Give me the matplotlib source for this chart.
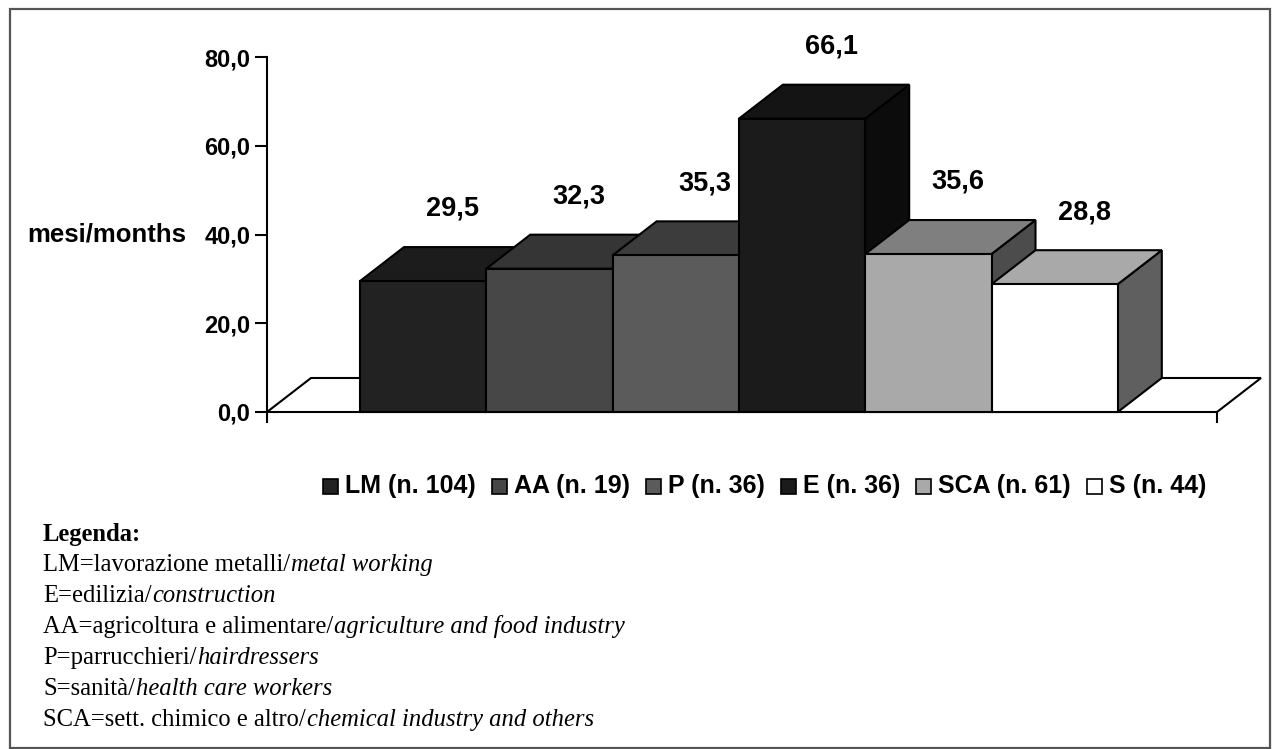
import matplotlib
matplotlib.use('Agg')
import matplotlib.pyplot as plt
from matplotlib.patches import Polygon, Rectangle
from matplotlib.ticker import FuncFormatter

W, H = 1273, 749

# data
categories = ['LM', 'AA', 'P', 'E', 'SCA', 'S']
counts = [104, 19, 36, 36, 61, 44]
months = [29.5, 32.3, 35.3, 66.1, 35.6, 28.8]
yticks = [0, 20, 40, 60, 80]

legend_lines = [
    ('LM=lavorazione metalli/', 'metal working'),
    ('E=edilizia/', 'construction'),
    ('AA=agricoltura e alimentare/', 'agriculture and food industry'),
    ('P=parrucchieri/', 'hairdressers'),
    ('S=sanità/', 'health care workers'),
    ('SCA=sett. chimico e altro/', 'chemical industry and others'),
]

# bar face shades (front, top, side)
front_col = ['#222222', '#474747', '#5b5b5b', '#1b1b1b', '#a9a9a9', '#ffffff']
top_col = ['#1c1c1c', '#353535', '#3c3c3c', '#141414', '#7f7f7f', '#a9a9a9']
side_col = ['#111111', '#262626', '#2e2e2e', '#0c0c0c', '#4c4c4c', '#5f5f5f']

plt.rcParams['font.family'] = ['Liberation Sans', 'DejaVu Sans']

# pixel layout of the pseudo-3D plot
PX_BAR = 126.3          # pixels per bar width
PX_VAL = 355 / 80       # pixels per month
DX = 44 / PX_BAR        # depth offset, x
DY = 34 / PX_VAL        # depth offset, y
FIRST = (360 - 267) / PX_BAR
FLOOR_R = (1217 - 267) / PX_BAR
Y_LOW = -10 / PX_VAL


def fx(px):
    return px / W


def fy(py):
    return 1 - py / H


fig = plt.figure(figsize=(W / 100, H / 100), dpi=100)
fig.patch.set_facecolor('white')

# outer frame
fig.add_artist(Rectangle((fx(10), fy(748)), fx(1270) - fx(10), fy(9) - fy(748),
                         transform=fig.transFigure, fill=False,
                         edgecolor='#555555', lw=1.6))

ax = fig.add_axes([fx(267), fy(422), fx(1265) - fx(267), fy(57) - fy(422)])
ax.set_facecolor('none')
ax.set_xlim(0, (1265 - 267) / PX_BAR)
ax.set_ylim(Y_LOW, 80)

# floor
floor = Polygon([(0, 0), (FLOOR_R, 0), (FLOOR_R + DX, DY), (DX, DY)],
                closed=True, facecolor='white', edgecolor='black', lw=1.5, zorder=1)
ax.add_patch(floor)
ax.plot([FLOOR_R, FLOOR_R], [0, Y_LOW], color='black', lw=1.5, clip_on=False, zorder=1)

# bars, drawn left to right so later bars hide earlier side faces
for i, v in enumerate(months):
    x0 = FIRST + i
    x1 = x0 + 1
    z = 2 + i * 3
    side = Polygon([(x1, 0), (x1, v), (x1 + DX, v + DY), (x1 + DX, DY)],
                   facecolor=side_col[i], edgecolor='black', lw=1.5, zorder=z)
    top = Polygon([(x0, v), (x1, v), (x1 + DX, v + DY), (x0 + DX, v + DY)],
                  facecolor=top_col[i], edgecolor='black', lw=1.5, zorder=z + 1)
    front = Polygon([(x0, 0), (x1, 0), (x1, v), (x0, v)],
                    facecolor=front_col[i], edgecolor='black', lw=1.5, zorder=z + 2)
    for p in (side, top, front):
        ax.add_patch(p)
    ax.text(x0 + 0.5 + DX / 2 + 0.06, v + DY + 8.6, f'{v:.1f}'.replace('.', ','),
            ha='center', va='center', fontsize=19.5, fontweight='bold',
            clip_on=False, zorder=40)

# axes styling
ax.set_yticks(yticks)
ax.yaxis.set_major_formatter(FuncFormatter(lambda v, p: f'{v:.1f}'.replace('.', ',')))
ax.tick_params(axis='y', length=9, width=1.5, pad=3, labelsize=17)
for lbl in ax.get_yticklabels():
    lbl.set_fontweight('bold')
ax.set_xticks([])
for s in ['top', 'right', 'bottom']:
    ax.spines[s].set_visible(False)
ax.spines['left'].set_linewidth(1.5)

fig.text(fx(27), fy(234), 'mesi/months', ha='left', va='center',
         fontsize=18.5, fontweight='bold')

renderer = fig.canvas.get_renderer()

# series legend under the plot
x = 323
for i, cat in enumerate(categories):
    fig.add_artist(Rectangle((fx(x), fy(486 + 7.5)), 15 / W, 15 / H,
                             transform=fig.transFigure, facecolor=front_col[i],
                             edgecolor='black', lw=1.2))
    t = fig.text(fx(x + 22), fy(486), f'{cat} (n. {counts[i]})', ha='left',
                 va='center', fontsize=18, fontweight='bold')
    bb = t.get_window_extent(renderer=renderer)
    x = bb.x1 + 16

# abbreviation key
KEY_FS = 17.7
fig.text(fx(43), fy(534), 'Legenda:', ha='left', va='center', fontsize=KEY_FS,
         fontweight='bold', family='Liberation Serif')
for k, (plain, ital) in enumerate(legend_lines):
    yy = fy(534 + 31 * (k + 1))
    t = fig.text(fx(43), yy, plain, ha='left', va='center', fontsize=KEY_FS,
                 family='Liberation Serif')
    bb = t.get_window_extent(renderer=renderer)
    fig.text(fx(bb.x1 + 1), yy, ital, ha='left', va='center', fontsize=KEY_FS,
             style='italic', family='Liberation Serif')

fig.savefig('out.png', dpi=100)
